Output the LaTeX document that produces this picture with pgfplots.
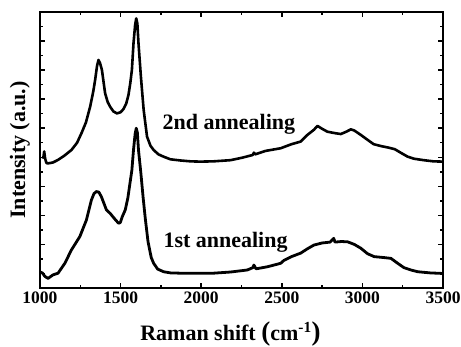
\documentclass[border=0pt]{standalone}
\usepackage{fontspec}
\setmainfont{Liberation Serif}
\usepackage{pgfplots}
\pgfplotsset{compat=1.18}
\begin{document}
\begin{tikzpicture}
\begin{axis}[
  name=ax,
  at={(0,0)}, anchor=south west,
  scale only axis, width=403pt, height=276pt,
  xmin=1000, xmax=3500, ymin=-0.5, ymax=9,
  xtick={1000,1500,...,3500}, minor x tick num=1,
  ytick={0,...,9}, minor y tick num=1, yticklabels={},
  tick align=inside, major tick length=5pt, minor tick length=3pt,
  axis line style={line width=1.8pt},
  every tick/.style={line width=1.5pt, black},
  tick label style={font=\bfseries\fontsize{17.5}{17.5}\selectfont},
  /pgf/number format/assume math mode=true,
  /pgf/number format/1000 sep={},
  clip=false,
]
\addplot[black, line width=2.6pt, line join=round] coordinates {
(1020,3.95) (1026,4.20) (1032,3.95) (1040,3.80) (1050,3.79) (1080,3.82) (1112,3.91)
(1150,4.05) (1195,4.25) (1230,4.50) (1259,4.85) (1285,5.20) (1311,5.74)
(1330,6.25) (1342,6.66) (1354,7.15) (1363,7.35) (1372,7.25) (1384,7.01)
(1404,6.20) (1420,5.90) (1435,5.74) (1455,5.58) (1477,5.51) (1500,5.55)
(1518,5.66) (1535,5.85) (1549,6.15) (1560,6.55) (1570,7.00) (1580,7.92)
(1590,8.55) (1597,8.78) (1604,8.60) (1611,7.92) (1626,6.77) (1643,5.63)
(1664,4.71) (1685,4.40) (1705,4.25) (1735,4.10) (1767,4.02) (1809,3.93)
(1871,3.89) (1933,3.86) (1995,3.85) (2076,3.86) (2182,3.90) (2250,3.98)
(2300,4.05) (2320,4.08) (2327,4.16) (2335,4.10) (2400,4.22) (2493,4.31)
(2560,4.45) (2617,4.54) (2659,4.77) (2700,4.95) (2721,5.08) (2750,4.98)
(2783,4.88) (2830,4.83) (2866,4.80) (2900,4.88) (2928,4.96) (2950,4.92)
(2990,4.77) (3032,4.60) (3070,4.45) (3120,4.38) (3156,4.34) (3200,4.28)
(3240,4.15) (3281,4.02) (3320,3.95) (3380,3.90) (3440,3.86) (3500,3.85)
};
\addplot[black, line width=2.8pt, line join=round] coordinates {
(1000,0.05) (1015,0.02) (1030,-0.10) (1050,-0.17) (1080,-0.05) (1112,0.01)
(1154,0.35) (1195,0.81) (1247,1.27) (1288,1.84) (1319,2.53) (1335,2.75)
(1350,2.82) (1365,2.80) (1381,2.64) (1412,2.19) (1435,2.07) (1460,1.90)
(1487,1.73) (1498,1.75) (1510,1.95) (1529,2.19) (1545,2.60) (1558,3.10)
(1570,3.56) (1580,4.25) (1590,4.80) (1597,5.00) (1604,4.85) (1611,4.25)
(1625,3.50) (1640,2.60) (1653,1.90) (1670,1.10) (1690,0.55) (1705,0.35)
(1730,0.15) (1767,0.06) (1809,0.02) (1871,0.01) (1933,0.01) (2000,0.01)
(2076,0.01) (2182,0.05) (2286,0.12) (2320,0.20) (2327,0.29) (2340,0.16)
(2410,0.23) (2493,0.35) (2513,0.45) (2560,0.58) (2617,0.70) (2659,0.85)
(2700,0.98) (2750,1.05) (2800,1.08) (2822,1.21) (2830,1.08) (2870,1.10)
(2908,1.09) (2950,1.00) (2990,0.87) (3032,0.68) (3073,0.58) (3130,0.55)
(3177,0.52) (3219,0.35) (3258,0.20) (3301,0.12) (3343,0.06) (3420,0.02)
(3500,0.00)
};
\node[anchor=base west, inner sep=0pt, font=\bfseries\fontsize{22}{22}\selectfont] at (axis cs:1759,4.96) {2nd annealing};
\node[anchor=base west, inner sep=0pt, font=\bfseries\fontsize{22}{22}\selectfont] at (axis cs:1765,0.88) {1st annealing};
\node[rotate=90, anchor=south, inner sep=0pt, font=\bfseries\fontsize{22}{22}\selectfont] at ([xshift=-10pt]rel axis cs:0,0.5) {Intensity (a.u.)};
\node[anchor=base, inner sep=0pt, font=\bfseries\fontsize{22}{22}\selectfont] at ([yshift=-52pt, xshift=-11pt]rel axis cs:0.5,0) {Raman shift {\fontsize{27}{27}\selectfont(}cm\textsuperscript{-1}{\fontsize{27}{27}\selectfont)}};
\end{axis}
\pgfresetboundingbox
\path (-40pt,-58pt) rectangle (421pt,288pt);
\end{tikzpicture}
\end{document}
